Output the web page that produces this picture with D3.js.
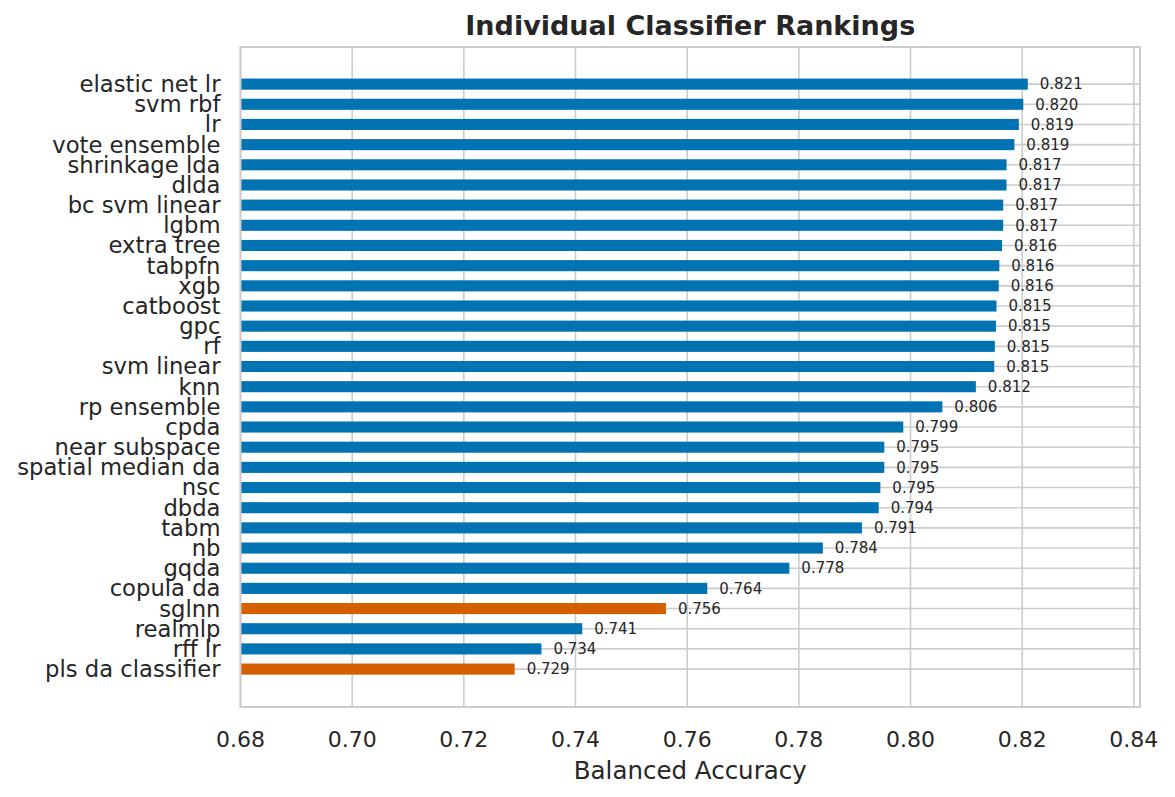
<!DOCTYPE html>
<html lang="en">
<head>
<meta charset="utf-8">
<title>Individual Classifier Rankings</title>
<script src="https://cdn.jsdelivr.net/npm/d3@7"></script>
<style>
  body { margin: 0; background: #fff; }
  svg text { font-family: "DejaVu Sans", sans-serif; fill: #262626; }
</style>
</head>
<body>
<div id="chart"></div>
<script>
// classifiers, top to bottom
var names = ["elastic net lr", "svm rbf", "lr", "vote ensemble", "shrinkage lda", "dlda",
  "bc svm linear", "lgbm", "extra tree", "tabpfn", "xgb", "catboost", "gpc", "rf",
  "svm linear", "knn", "rp ensemble", "cpda", "near subspace", "spatial median da",
  "nsc", "dbda", "tabm", "nb", "gqda", "copula da", "sglnn", "realmlp", "rff lr",
  "pls da classifier"];
var scores = [0.8210, 0.8202, 0.8194, 0.8186, 0.8172, 0.8172, 0.8166, 0.8166, 0.8164,
  0.8159, 0.8158, 0.8154, 0.8153, 0.8151, 0.8150, 0.8117, 0.8057, 0.7987, 0.7953,
  0.7953, 0.7946, 0.7943, 0.7913, 0.7843, 0.7783, 0.7636, 0.7562, 0.7412, 0.7339,
  0.7291];
var highlighted = ["sglnn", "pls da classifier"];
var xTicks = [0.68, 0.70, 0.72, 0.74, 0.76, 0.78, 0.80, 0.82, 0.84];

var w = 1175, h = 797;
var plotL = 240.5, plotR = 1140, plotT = 47, plotB = 707;

var svg = d3.select("#chart").append("svg")
  .attr("width", w).attr("height", h);

var xScale = d3.scaleLinear().domain([0.68, 0.8411]).range([plotL, plotR]);
// bar index -> y (continuous, so padding matches matplotlib's margins)
var yScale = d3.scaleLinear().domain([-1.84, names.length - 1 + 1.88]).range([plotT, plotB]);
var barH = (yScale(1) - yScale(0)) * 0.55;

// grid
svg.append("g").selectAll("line").data(xTicks).enter().append("line")
  .attr("x1", d => xScale(d)).attr("x2", d => xScale(d))
  .attr("y1", plotT).attr("y2", plotB)
  .attr("stroke", "#cccccc").attr("stroke-width", 1.6);
svg.append("g").selectAll("line").data(names).enter().append("line")
  .attr("x1", plotL).attr("x2", plotR)
  .attr("y1", (d, i) => yScale(i)).attr("y2", (d, i) => yScale(i))
  .attr("stroke", "#cccccc").attr("stroke-width", 1.6);

// bars
svg.append("g").selectAll("rect").data(names).enter().append("rect")
  .attr("x", xScale(0.68))
  .attr("y", (d, i) => yScale(i) - barH / 2)
  .attr("width", (d, i) => xScale(scores[i]) - xScale(0.68))
  .attr("height", barH)
  .attr("fill", d => highlighted.indexOf(d) >= 0 ? "#d55e00" : "#0173b2");

// value labels
svg.append("g").selectAll("text").data(names).enter().append("text")
  .attr("x", (d, i) => xScale(scores[i]) + 12)
  .attr("y", (d, i) => yScale(i))
  .attr("dy", "0.35em")
  .style("font-size", "15px")
  .text((d, i) => scores[i].toFixed(3));

// frame
svg.append("rect")
  .attr("x", plotL).attr("y", plotT)
  .attr("width", plotR - plotL).attr("height", plotB - plotT)
  .attr("fill", "none").attr("stroke", "#cccccc").attr("stroke-width", 2);

// y labels
svg.append("g").selectAll("text").data(names).enter().append("text")
  .attr("x", plotL - 20)
  .attr("y", (d, i) => yScale(i))
  .attr("dy", "0.35em")
  .attr("text-anchor", "end")
  .style("font-size", "22.7px")
  .text(d => d);

// x axis tick labels
svg.append("g").selectAll("text").data(xTicks).enter().append("text")
  .attr("x", d => xScale(d))
  .attr("y", plotB + 40)
  .attr("text-anchor", "middle")
  .style("font-size", "22px")
  .text(d => d.toFixed(2));

svg.append("text")
  .attr("x", (plotL + plotR) / 2).attr("y", 779)
  .attr("text-anchor", "middle")
  .style("font-size", "24.5px")
  .text("Balanced Accuracy");

svg.append("text")
  .attr("x", (plotL + plotR) / 2).attr("y", 35)
  .attr("text-anchor", "middle")
  .style("font-size", "27px")
  .style("font-weight", "bold")
  .text("Individual Classifier Rankings");
</script>
</body>
</html>
